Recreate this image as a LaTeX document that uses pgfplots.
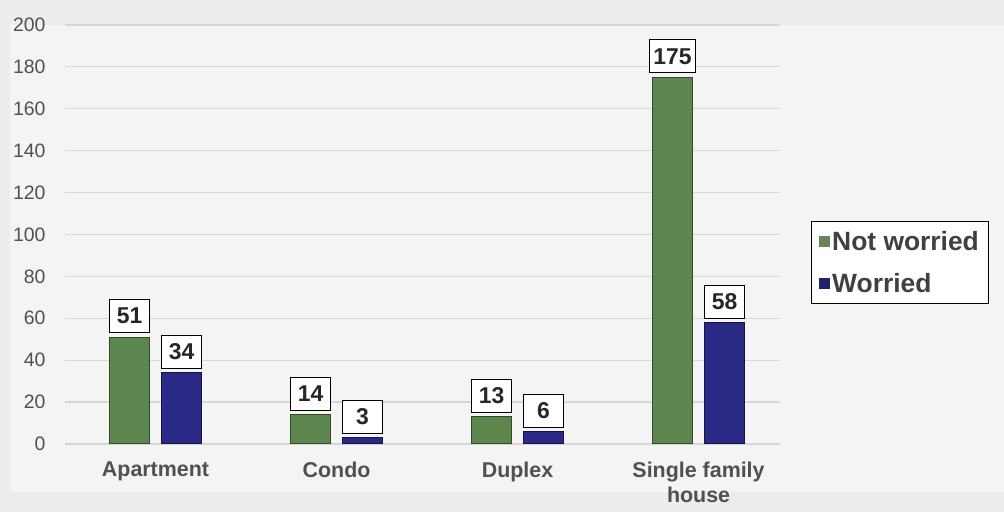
\documentclass[border=0pt]{standalone}
\usepackage{pgfplots}
\pgfplotsset{compat=1.18}
\usepackage{fontspec}
\setmainfont{Liberation Sans}
\definecolor{bg}{HTML}{ECEDEB}
\definecolor{panel}{HTML}{F4F4F4}
\definecolor{gridc}{HTML}{D6D6D6}
\definecolor{gF}{HTML}{5E8750}
\definecolor{gD}{HTML}{2F4A27}
\definecolor{bF}{HTML}{2A2A86}
\definecolor{bD}{HTML}{14144A}
\definecolor{txt}{HTML}{505050}
\begin{document}
\begin{tikzpicture}[x=1bp,y=1bp]
\fill[bg] (0,0) rectangle (1004,512);
\fill[panel] (10,20) rectangle (1004,487);
\begin{axis}[
  at={(65bp,68bp)}, anchor=south west,
  scale only axis, width=715bp, height=419bp,
  ymin=0, ymax=200, ytick={0,20,...,200},
  xmin=-0.5, xmax=3.45,
  xtick=data,
  xticklabels={Apartment,Condo,Duplex,{Single family\\house}},
  xticklabel style={align=center, font=\bfseries\fontsize{21.5}{26}\selectfont, text=txt, yshift=-14bp},
  yticklabel style={font=\fontsize{19.5}{22}\selectfont, text=txt, xshift=-16bp},
  /pgf/number format/assume math mode=true,
  ymajorgrids, grid style={gridc, line width=1.2pt},
  axis line style={draw=none},
  major tick length=0pt,
  ybar=12bp, bar width=40bp,
  nodes near coords,
  every node near coord/.append style={draw=black, fill=white, line width=0.9pt,
     font=\bfseries\fontsize{23}{26}\selectfont, text=black!85, inner sep=4pt, minimum width=40bp, minimum height=33bp, yshift=4bp},
  legend style={at={(1.043,0.433)}, anchor=west, draw=black, line width=1pt, fill=white,
     font=\bfseries\fontsize{26.5}{30}\selectfont, text=txt!80!black, row sep=17pt, inner xsep=8pt, inner ysep=8pt,
     /tikz/every even column/.append style={column sep=-3pt}},
  legend cell align=left,
]
\addplot[draw=gD, line width=1pt, fill=gF,
  legend image code/.code={\fill[gF!80!gray] (0,-5bp) rectangle (10bp,5bp);}]
  coordinates {(0,51) (1,14) (2,13) (3,175)};
\addplot[draw=bD, line width=1pt, fill=bF,
  legend image code/.code={\fill[bF!80!black] (0,-5bp) rectangle (10bp,5bp);}]
  coordinates {(0,34) (1,3) (2,6) (3,58)};
\legend{Not worried,Worried}
\end{axis}
\end{tikzpicture}
\end{document}
